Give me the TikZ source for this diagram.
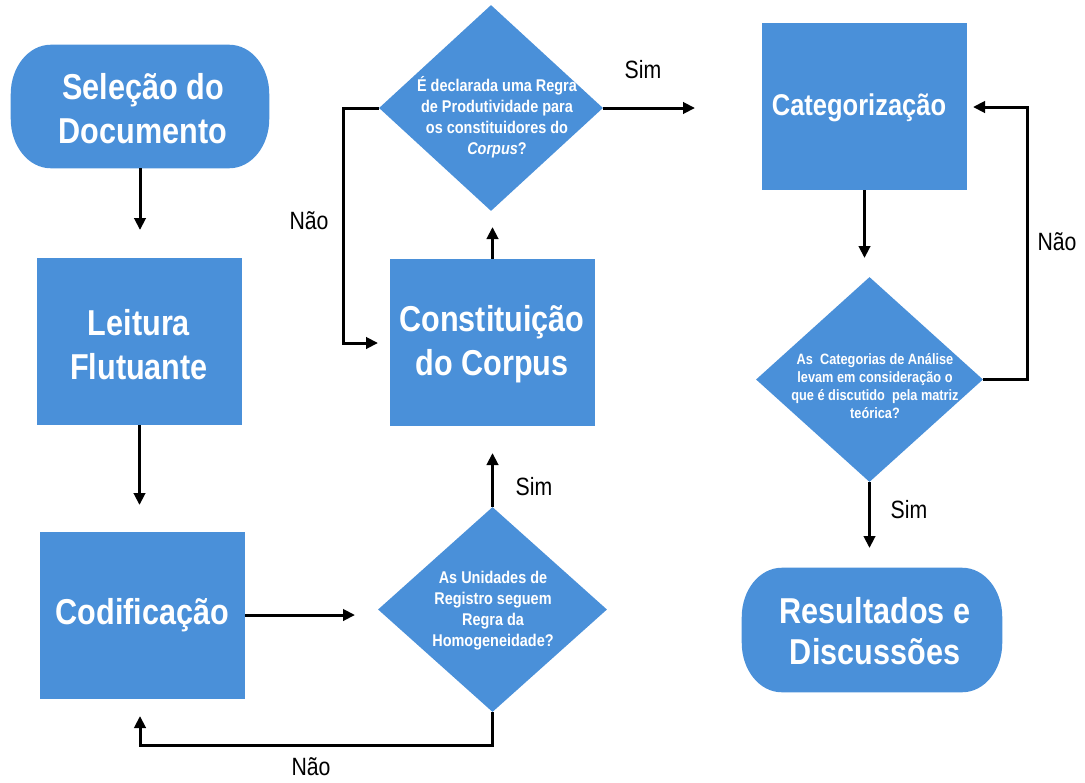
\documentclass[tikz,border=0pt]{standalone}
\usepackage{fontspec}
\setmainfont{Liberation Sans}[FakeStretch=0.85]
\usetikzlibrary{shapes.geometric,arrows.meta}
\definecolor{flowblue}{RGB}{74,144,217}
\newcommand\termfill[1]{%
 \fill[flowblue] ([xshift=30pt]#1.north west) -- ([xshift=-30pt]#1.north east)
   arc[start angle=90,end angle=0,x radius=30pt,y radius=37pt]
   -- ([yshift=37pt]#1.south east)
   arc[start angle=0,end angle=-90,x radius=30pt,y radius=37pt]
   -- ([xshift=30pt]#1.south west)
   arc[start angle=270,end angle=180,x radius=30pt,y radius=37pt]
   -- ([yshift=-37pt]#1.north west)
   arc[start angle=180,end angle=90,x radius=30pt,y radius=37pt] -- cycle;}
\begin{document}
\begin{tikzpicture}[x=0.75pt,y=-0.75pt,
  box/.style={rectangle, fill=flowblue, inner sep=0, minimum width=153.75pt, minimum height=125.25pt},
  dia/.style={diamond, fill=flowblue, inner sep=0},
  term/.style={rectangle, inner sep=0},
  big/.style={text=white, font=\bfseries\fontsize{27}{33}\selectfont, align=center, inner sep=0},
  mid/.style={text=white, font=\bfseries\fontsize{22.5}{27}\selectfont, align=center, inner sep=0},
  small/.style={text=white, font=\bfseries\fontsize{12.75}{15.75}\selectfont, align=center, inner sep=0},
  tiny/.style={text=white, font=\bfseries\fontsize{11.25}{13.5}\selectfont, align=center, inner sep=0},
  lbl/.style={font=\fontsize{18.75}{22}\selectfont, anchor=base, inner sep=0},
  arr/.style={line width=2.25pt, -{Triangle[length=9pt,width=8.5pt]}}
]
\useasboundingbox (0,0) rectangle (1085,782);

% terminals
\node[term, minimum width=193.5pt, minimum height=92.25pt] (sel) at (140,106.5) {};
\termfill{sel}
\node[big] (seltxt) at (143,109) {Seleção do\\Documento};

\node[term, minimum width=195pt, minimum height=93pt] (res) at (872,630) {};
\termfill{res}
\node[big, font=\bfseries\fontsize{27}{31}\selectfont] (restxt) at (875,631) {Resultados e\\Discussões};

% boxes
\node[box] (leit) at (139.5,341.5) {};
\node[big] (leittxt) at (139,345) {Leitura\\Flutuante};
\node[box] (cod) at (142.5,615) {};
\node[big] (codtxt) at (142.5,615) {Codificação};
\node[box] (const) at (492.5,342.5) {};
\node[big] (consttxt) at (492,344) {Constituição\\do Corpus};
\node[box] (cat) at (864.5,106.5) {};
\node[mid] (cattxt) at (859,108) {Categorização};

% diamonds
\node[dia, minimum width=168pt, minimum height=154.5pt] (d2) at (491,108) {};
\node[small] (d2txt) at (497,117) {É declarada uma Regra\\de Produtividade para\\os constituidores do\\\textit{Corpus}?};
\node[dia, minimum width=171.75pt, minimum height=153.75pt] (d1) at (492.5,609.5) {};
\node[small] (d1txt) at (493,611) {As Unidades de\\Registro seguem\\Regra da\\Homogeneidade?};
\node[dia, minimum width=170.25pt, minimum height=153.75pt] (d3) at (869.5,379.5) {};
\node[tiny] (d3txt) at (875,386) {As~ Categorias de Análise\\levam em consideração o\\que é discutido~ pela matriz\\teórica?};

% connectors
\coordinate (t1) at (140,230);
\draw[arr] (sel.south) -- (t1);
\coordinate (t2) at (139.5,505);
\draw[arr] (leit.south) -- (t2);
\coordinate (t3) at (355,615);
\draw[arr] (cod.east) -- (t3);
\coordinate (t4) at (492.5,453);
\draw[arr] (d1.north) -- (t4);
\coordinate (c5) at (492.5,745);
\coordinate (t5) at (140,716);
\draw[arr] (d1.south) -- (c5) -| (t5);
\coordinate (t6) at (492.5,227);
\draw[arr] (const.north) -- (t6);
\coordinate (c7) at (343,108);
\coordinate (t7) at (378,343);
\draw[arr] (d2.west) -- (c7) |- (t7);
\coordinate (t8) at (695,108);
\draw[arr] (d2.east) -- (t8);
\coordinate (t9) at (864.5,258);
\draw[arr] (cat.south) -- (t9);
\coordinate (c10) at (1027,379.5);
\coordinate (t10) at (973,107);
\draw[arr] (d3.east) -- (c10) |- (t10);
\coordinate (t11) at (869.5,548);
\draw[arr] (d3.south) -- (t11);

% labels
\node[lbl] (l1) at (643,78) {Sim};
\node[lbl] (l2) at (309,229) {Não};
\node[lbl] (l3) at (534,495) {Sim};
\node[lbl] (l4) at (311,775) {Não};
\node[lbl] (l5) at (1057,250) {Não};
\node[lbl] (l6) at (909,518) {Sim};
\end{tikzpicture}
\end{document}
